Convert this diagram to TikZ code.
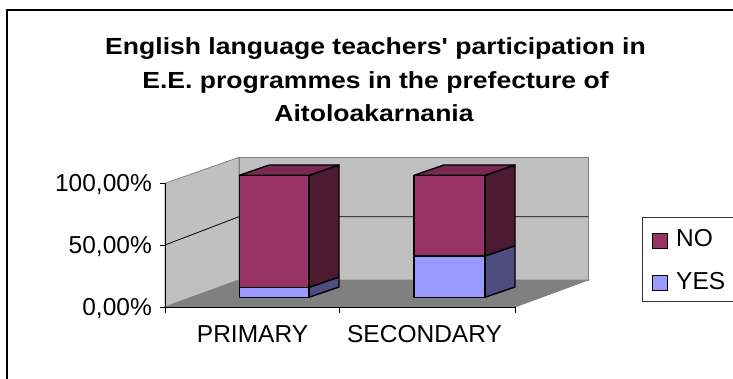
\documentclass[tikz,border=0pt]{standalone}
\usepackage{fontspec}
\setmainfont{Liberation Sans}
\newfontfamily\titlefont[FakeStretch=1.14]{Liberation Sans}
\definecolor{nofront}{HTML}{993366}
\definecolor{noside}{HTML}{4D1A33}
\definecolor{notop}{HTML}{7A2952}
\definecolor{yesfront}{HTML}{9999FF}
\definecolor{yesside}{HTML}{4D4D80}
\definecolor{wallgray}{HTML}{C0C0C0}
\definecolor{floorgray}{HTML}{808080}
\tikzset{
  titletext/.style={anchor=base, inner sep=0pt, font=\titlefont\bfseries\fontsize{23.3}{28}\selectfont},
  ticktext/.style={anchor=base east, inner sep=0pt, font=\fontsize{24.5}{28}\selectfont},
  cattext/.style={anchor=base, inner sep=0pt, font=\fontsize{24.5}{28}\selectfont},
  legtext/.style={anchor=base west, inner sep=0pt, font=\fontsize{24.5}{28}\selectfont},
  barface/.style={draw=black, line width=1.4pt, line join=round},
  wallface/.style={draw=floorgray, line width=0.8pt},
  axisline/.style={draw=black, line width=0.9pt},
}
% front-left x, front-right x, bottom y, top y, front colour, side colour
\newcommand\mybarseg[6]{%
  \filldraw[barface, fill=#6] (#2,#3) -- (#2+30,#3-10.3) -- (#2+30,#4-10.3) -- (#2,#4) -- cycle;
  \filldraw[barface, fill=#5] (#1,#3) rectangle (#2,#4);
}
\newcommand\mybartop[3]{% left x, right x, top y
  \filldraw[barface, fill=notop] (#1,#3) -- (#1+30,#3-10.3) -- (#2+30,#3-10.3) -- (#2,#3) -- cycle;
}
\begin{document}
\begin{tikzpicture}[x=1pt,y=-1pt]
\useasboundingbox (0,0) rectangle (733,379);
\fill[white] (0,0) rectangle (733,379);
% outer frame
\draw[line width=2pt] (6.5,380) -- (6.5,10) -- (734,10);
% title
\node[titletext] (title1) at (375.5,55) {English language teachers' participation in};
\node[titletext] (title2) at (375.5,89) {E.E. programmes in the prefecture of};
\node[titletext] (title3) at (374,122) {Aitoloakarnania};
% walls and floor
\filldraw[wallface, fill=wallgray] (165,307) -- (165,183.3) -- (239,157.3) -- (239,280) -- cycle;
\filldraw[wallface, fill=wallgray] (239,157.3) rectangle (588.3,280);
\filldraw[wallface, fill=floorgray] (165,307) -- (239,280) -- (588.3,280) -- (515,307) -- cycle;
% 50% gridline
\draw[black, line width=0.8pt] (165,245) -- (239,216.7) -- (588.3,216.7);
% axes
\draw[axisline] (165,183.3) -- (165,307) -- (515,307);
\foreach \yy in {183.3,245,307} \draw[axisline] (160,\yy) -- (165,\yy);
\foreach \xx in {165,339,515} \draw[axisline] (\xx,307) -- (\xx,313);
% tick labels
\node[ticktext] (t100) at (152,191.7) {100,00\%};
\node[ticktext] (t50) at (152,253.3) {50,00\%};
\node[ticktext] (t0) at (152,315) {0,00\%};
% category labels
\node[cattext] (cprim) at (252.5,342.7) {PRIMARY};
\node[cattext] (csec) at (424.5,342.7) {SECONDARY};
% bars
\mybarseg{239.3}{309}{297.3}{287.3}{yesfront}{yesside}
\mybarseg{239.3}{309}{287.3}{175.3}{nofront}{noside}
\mybartop{239.3}{309}{175.3}
\mybarseg{414}{485}{297.3}{256}{yesfront}{yesside}
\mybarseg{414}{485}{256}{175.3}{nofront}{noside}
\mybartop{414}{485}{175.3}
% legend
\draw[line width=0.9pt, draw=black!80] (642.7,217.3) rectangle (736,301);
\filldraw[draw=black, line width=1pt, fill=nofront] (652.3,233.3) rectangle (667.5,248.3);
\filldraw[draw=black, line width=1pt, fill=yesfront] (652.3,275) rectangle (667.5,290);
\node[legtext] (lno) at (676,246.7) {NO};
\node[legtext] (lyes) at (676,289.3) {YES};
\end{tikzpicture}
\end{document}
